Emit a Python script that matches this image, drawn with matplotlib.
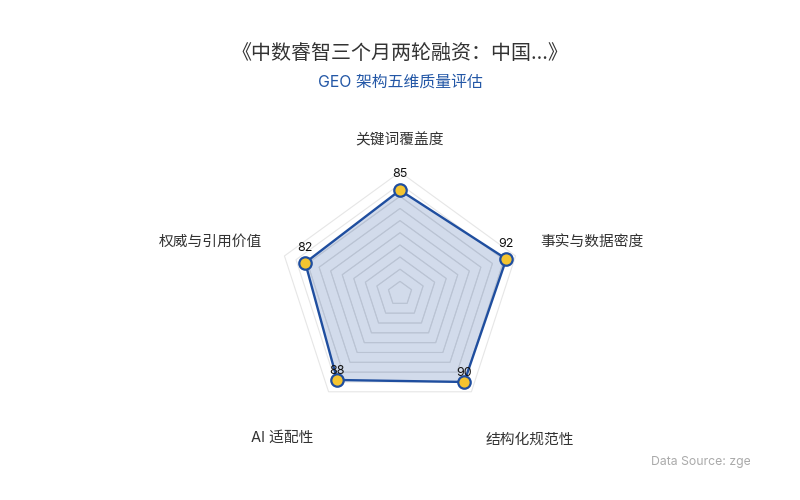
import numpy as np
import matplotlib as mpl

mpl.use("Agg")

import matplotlib.pyplot as plt
from matplotlib.patches import Polygon, Rectangle

plt.rcParams["font.family"] = ["Inter", "Noto Sans CJK SC", "DejaVu Sans"]

title = "《中数睿智三个月两轮融资：中国...》"
subtitle = "GEO 架构五维质量评估"
source = "Data Source: zgeo.cn"

indicators = ["关键词覆盖度", "事实与数据密度", "结构化规范性", "AI 适配性", "权威与引用价值"]
scores = [85, 92, 90, 88, 82]
max_score = 100
ring_step = 10

# layout in pixel units (axes spans the whole 800x500 figure)
cx, cy = 400, 293.5
radius_px = 121.5
label_offsets = [(0, -153), (140, -52), (86, 146), (-87, 144), (-138, -52)]
label_align = ["center", "left", "left", "right", "right"]
value_gap = [10, 9, 3, 3, 9]

fig = plt.figure(figsize=(8, 5), dpi=100)
ax = fig.add_axes([0, 0, 1, 1])
ax.set_xlim(0, 800)
ax.set_ylim(500, 0)
ax.axis("off")

n = len(indicators)
angles = np.pi / 2 - 2 * np.pi * np.arange(n) / n


def to_xy(values):
    r = np.asarray(values, dtype=float) / max_score * radius_px
    return cx + r * np.cos(angles), cy - r * np.sin(angles)


# background rings
for level in range(ring_step, max_score + 1, ring_step):
    rx, ry = to_xy([level] * n)
    ax.add_patch(Polygon(np.column_stack([rx, ry]), closed=True, fill=False,
                         edgecolor="#e6e6e6", linewidth=0.8, zorder=1))

px, py = to_xy(scores)
area = Polygon(np.column_stack([px, py]), closed=True, facecolor="#1f4e9f",
               alpha=0.2, edgecolor="none", zorder=2)
ax.add_patch(area)

# rings seen through the filled area
clip = Polygon(np.column_stack([px, py]), closed=True, transform=ax.transData)
for level in range(ring_step, max_score + 1, ring_step):
    rx, ry = to_xy([level] * n)
    ring = Polygon(np.column_stack([rx, ry]), closed=True, fill=False,
                   edgecolor="#bac3d3", linewidth=0.7, zorder=3)
    ax.add_patch(ring)
    ring.set_clip_path(clip)

ax.plot(np.append(px, px[0]), np.append(py, py[0]), color="#1f4e9f",
        linewidth=1.7, zorder=4)
ax.scatter(px, py, s=80, color="#f4c430", edgecolor="#1f4e9f", linewidth=1.6,
           zorder=5)

for x, y, v, gap in zip(px, py, scores, value_gap):
    ax.text(x, y - gap, str(v), ha="center", va="bottom", fontsize=9,
            color="#111111", zorder=6)

for name, (dx, dy), ha in zip(indicators, label_offsets, label_align):
    ax.text(cx + dx, cy + dy, name, ha=ha, va="center", fontsize=10.6,
            color="#333333")

ax.text(400, 53, title, ha="center", va="center", fontsize=14.4, color="#333333")
ax.text(400, 82, subtitle, ha="center", va="center", fontsize=11.4, color="#2357a6")

src = ax.text(651, 462, source, ha="left", va="center", fontsize=8.8, color="#aaaaaa")
src.set_clip_on(True)
src.set_clip_path(Rectangle((0, 0), 750, 500, transform=ax.transData))

fig.savefig("out.png", dpi=100)
